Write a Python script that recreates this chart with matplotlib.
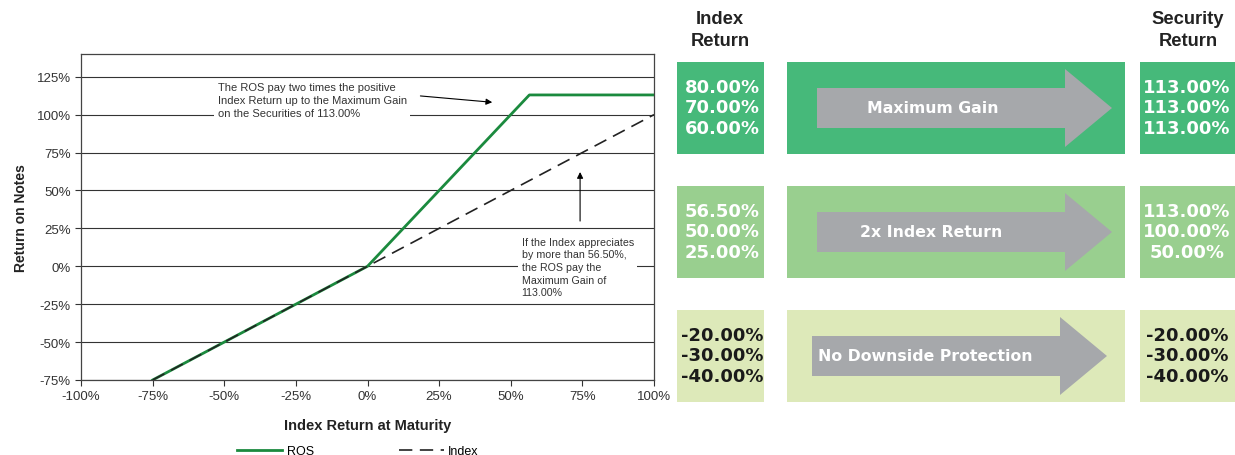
import matplotlib.pyplot as plt
import numpy as np
from matplotlib.patches import Rectangle, FancyArrow
from matplotlib.lines import Line2D

# payoff data (percent)
ros_x = [-75, 0, 56.5, 100]
ros_y = [-75, 0, 113, 113]
idx_x = [-75, 100]
idx_y = [-75, 100]

xticks = [-100, -75, -50, -25, 0, 25, 50, 75, 100]
yticks = [-75, -50, -25, 0, 25, 50, 75, 100, 125]

# table on the right
row_titles = ["Maximum Gain", "2x Index Return", "No Downside Protection"]
index_vals = [["80.00%", "70.00%", "60.00%"],
              ["56.50%", "50.00%", "25.00%"],
              ["-20.00%", "-30.00%", "-40.00%"]]
security_vals = [["113.00%", "113.00%", "113.00%"],
                 ["113.00%", "100.00%", "50.00%"],
                 ["-20.00%", "-30.00%", "-40.00%"]]
row_colors = ["#46b97a", "#99cf8f", "#dde9b9"]
val_colors = ["white", "white", "#1a1a1a"]

W, H = 1235, 456
fig = plt.figure(figsize=(W / 100, H / 100), dpi=100)
plt.rcParams['font.family'] = ['Liberation Sans', 'DejaVu Sans']

ax = fig.add_axes([81 / W, 1 - 381 / H, (654 - 81) / W, (381 - 55) / H])
ax.plot(ros_x, ros_y, '-', color='#1b8a3e', linewidth=2, zorder=4, label='ROS')
ax.plot(idx_x, idx_y, '--', color='#222222', linewidth=1.2, dashes=(8, 4.5), zorder=4, label='Index')
ax.set_xlim(-100, 100)
ax.set_ylim(-75, 140)
ax.set_xticks(xticks)
ax.set_yticks(yticks)
ax.set_xticklabels(['{}%'.format(t) for t in xticks])
ax.set_yticklabels(['{}%'.format(t) for t in yticks])
ax.tick_params(labelsize=9.5, length=4, width=0.8, colors='#333333')
for t in yticks:
    ax.axhline(t, color='#333333', linewidth=0.8, zorder=1)
for s in ax.spines.values():
    s.set_color('#444444')
    s.set_linewidth(0.9)
ax.set_xlabel('Index Return at Maturity', fontsize=10.5, fontweight='bold', color='#222222', labelpad=11)
ax.set_ylabel('Return on Notes', fontsize=10, fontweight='bold', color='#222222', labelpad=6)

box = dict(facecolor='white', edgecolor='none', pad=2.5)
ax.text(-52.3, 121.5, 'The ROS pay two times the positive\nIndex Return up to the Maximum Gain\non the Securities of 113.00%',
        fontsize=8, color='#333333', va='top', ha='left', bbox=box, zorder=3, linespacing=1.35)
ax.annotate('', xy=(44.5, 108), xytext=(17.5, 112.5),
            arrowprops=dict(arrowstyle='-|>', color='black', lw=0.8, mutation_scale=9), zorder=5)
ax.text(53.8, 19.5, 'If the Index appreciates\nby more than 56.50%,\nthe ROS pay the\nMaximum Gain of\n113.00%',
        fontsize=7.7, color='#333333', va='top', ha='left', bbox=box, zorder=3, linespacing=1.33)
ax.annotate('', xy=(74.2, 64), xytext=(74.2, 28),
            arrowprops=dict(arrowstyle='-|>', color='black', lw=0.8, mutation_scale=9), zorder=5)

handles = [Line2D([], [], color='#1b8a3e', linewidth=2),
           Line2D([], [], color='#222222', linewidth=1.2, linestyle='--', dashes=(8, 4.5))]
fig.legend(handles, ['ROS', 'Index'], loc='center', bbox_to_anchor=(0.29, 0.009), ncol=2,
           frameon=False, fontsize=9, handlelength=3.6, handletextpad=0.35, columnspacing=6.8)

# right-hand diagram, in pixel units
ov = fig.add_axes([0, 0, 1, 1])
ov.set_xlim(0, W)
ov.set_ylim(H, 0)
ov.axis('off')

for xh, label in [(720, 'Index'), (1188, 'Security')]:
    ov.text(xh, 20, label, ha='center', va='center', fontsize=13.2, fontweight='bold', color='#222222')
    ov.text(xh, 41, 'Return', ha='center', va='center', fontsize=13.2, fontweight='bold', color='#222222')

row_top = [63, 187, 311]
box_h = 92
cols = [(677, 764), (787, 1125), (1140, 1240)]
arrow_start = [817, 817, 812]
title_x = [933, 931, 925]
for i in range(3):
    y0 = row_top[i]
    yc = y0 + box_h / 2
    for (xa, xb) in cols:
        ov.add_patch(Rectangle((xa, y0), xb - xa, box_h, facecolor=row_colors[i], edgecolor='none'))
    ov.add_patch(FancyArrow(arrow_start[i], yc, 295, 0, width=40, head_width=78, head_length=47,
                            length_includes_head=True, facecolor='#a6a8ab', edgecolor='none'))
    ov.text(title_x[i], yc, row_titles[i],
            ha='center', va='center', fontsize=11.3, fontweight='bold', color='white',
            family='DejaVu Sans')
    for j in range(3):
        yy = yc + (j - 1) * 20.8 - 0.5
        ov.text(722, yy, index_vals[i][j], ha='center', va='center', fontsize=13,
                fontweight='bold', color=val_colors[i], family='DejaVu Sans')
        ov.text(1187, yy, security_vals[i][j], ha='center', va='center', fontsize=13,
                fontweight='bold', color=val_colors[i], family='DejaVu Sans')

fig.savefig('out.png', dpi=100)
